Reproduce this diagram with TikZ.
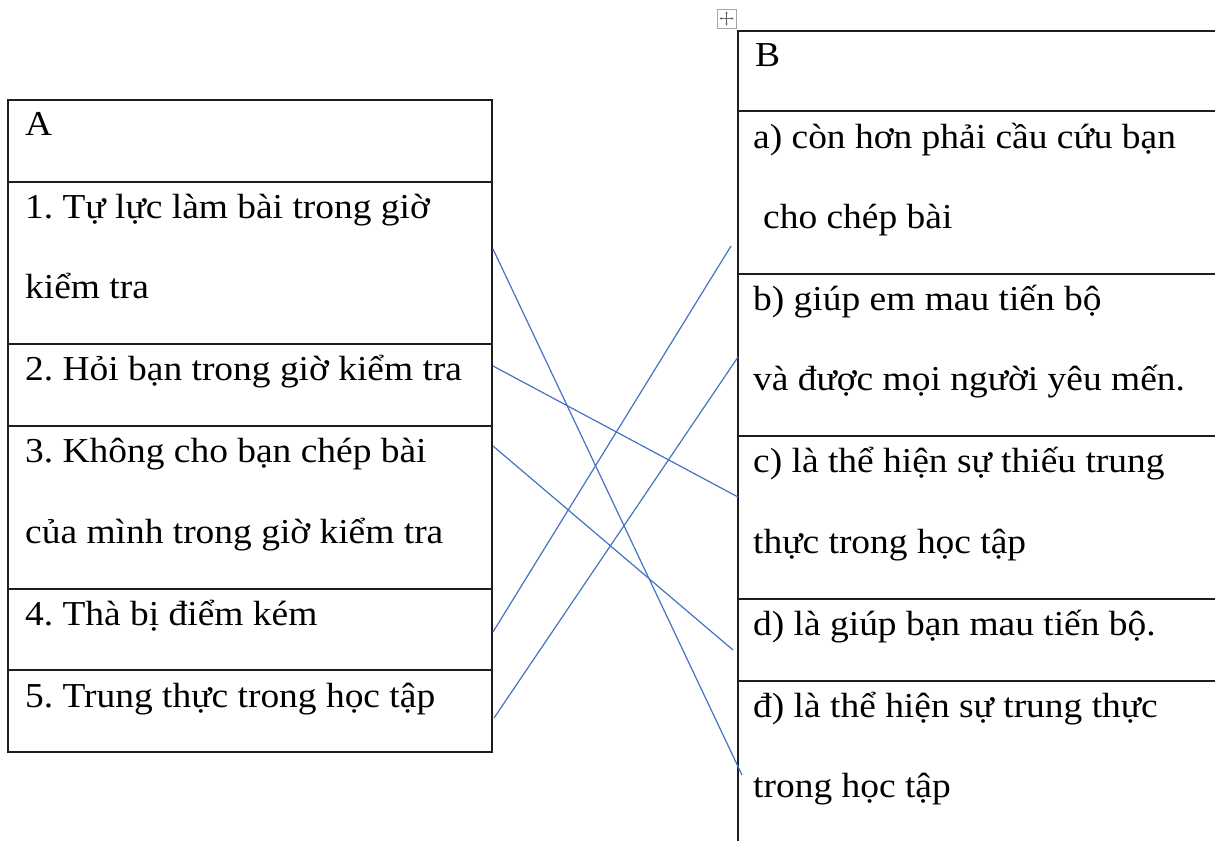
\documentclass[tikz,border=0pt]{standalone}
\usepackage{fontspec}
\setmainfont[FakeStretch=1.07]{Liberation Serif}
\usetikzlibrary{arrows.meta}
\definecolor{linkblue}{RGB}{68,114,196}
\definecolor{rule}{RGB}{30,30,30}
\frenchspacing
\begin{document}
\begin{tikzpicture}[x=1pt,y=-1pt,
  cell/.style={draw=rule,line width=1.4pt},
  txt/.style={anchor=base west,inner sep=0pt,font=\fontsize{35}{40}\selectfont,text=black},
  link/.style={draw=linkblue,line width=1.2pt},
  handle/.style={draw=gray!70,line width=0.8pt},
  harrow/.style={gray!80!black,line width=0.7pt,-{Stealth[length=2pt,width=2.5pt]}}]
\useasboundingbox (0,0) rectangle (1215,841);
% left table
\draw[cell] (8,100) rectangle (492,752);
\foreach \y in {182,344,426,589,670} \draw[cell] (8,\y) -- (492,\y);
% right table
\draw[cell] (738,841) -- (738,31) -- (1215,31);
\foreach \y in {111,274,436,599,681} \draw[cell] (738,\y) -- (1215,\y);
% move handle
\draw[handle] (717,9) rectangle (736,28);
\coordinate (hc) at (726.5,18.5);
\draw[harrow] (hc) -- ++(0,-7);
\draw[harrow] (hc) -- ++(0,7);
\draw[harrow] (hc) -- ++(-7,0);
\draw[harrow] (hc) -- ++(7,0);
% left texts
\node[txt] (A) at (25,135) {A};
\node[txt] (l1a) at (25,218) {1. Tự lực làm bài trong giờ};
\node[txt] (l1b) at (25,298) {kiểm tra};
\node[txt] (l2) at (25,380) {2. Hỏi bạn trong giờ kiểm tra};
\node[txt] (l3a) at (25,462) {3. Không cho bạn chép bài};
\node[txt] (l3b) at (25,543) {của mình trong giờ kiểm tra};
\node[txt] (l4) at (25,625) {4. Thà bị điểm kém};
\node[txt] (l5) at (25,707) {5. Trung thực trong học tập};
% right texts
\node[txt] (B) at (755,66) {B};
\node[txt] (ra1) at (753,148) {a) còn hơn phải cầu cứu bạn};
\node[txt] (ra2) at (763,228) {cho chép bài};
\node[txt] (rb1) at (753,310) {b) giúp em mau tiến bộ};
\node[txt] (rb2) at (753,390) {và được mọi người yêu mến.};
\node[txt] (rc1) at (753,472) {c) là thể hiện sự thiếu trung};
\node[txt] (rc2) at (753,553) {thực trong học tập};
\node[txt] (rd) at (753,635) {d) là giúp bạn mau tiến bộ.};
\node[txt] (re1) at (753,717) {đ) là thể hiện sự trung thực};
\node[txt] (re2) at (753,797) {trong học tập};
% connector ends
\coordinate (s1) at (493,249);
\coordinate (s2) at (493,366);
\coordinate (s3) at (493,446);
\coordinate (s4) at (493,632);
\coordinate (s5) at (494,718);
\coordinate (ta) at (731,246);
\coordinate (tb) at (738,357);
\coordinate (tc) at (738,497);
\coordinate (td) at (733,650);
\coordinate (te) at (742,775);
\draw[link] (s1) -- (te);
\draw[link] (s2) -- (tc);
\draw[link] (s3) -- (td);
\draw[link] (s4) -- (ta);
\draw[link] (s5) -- (tb);
\end{tikzpicture}
\end{document}
